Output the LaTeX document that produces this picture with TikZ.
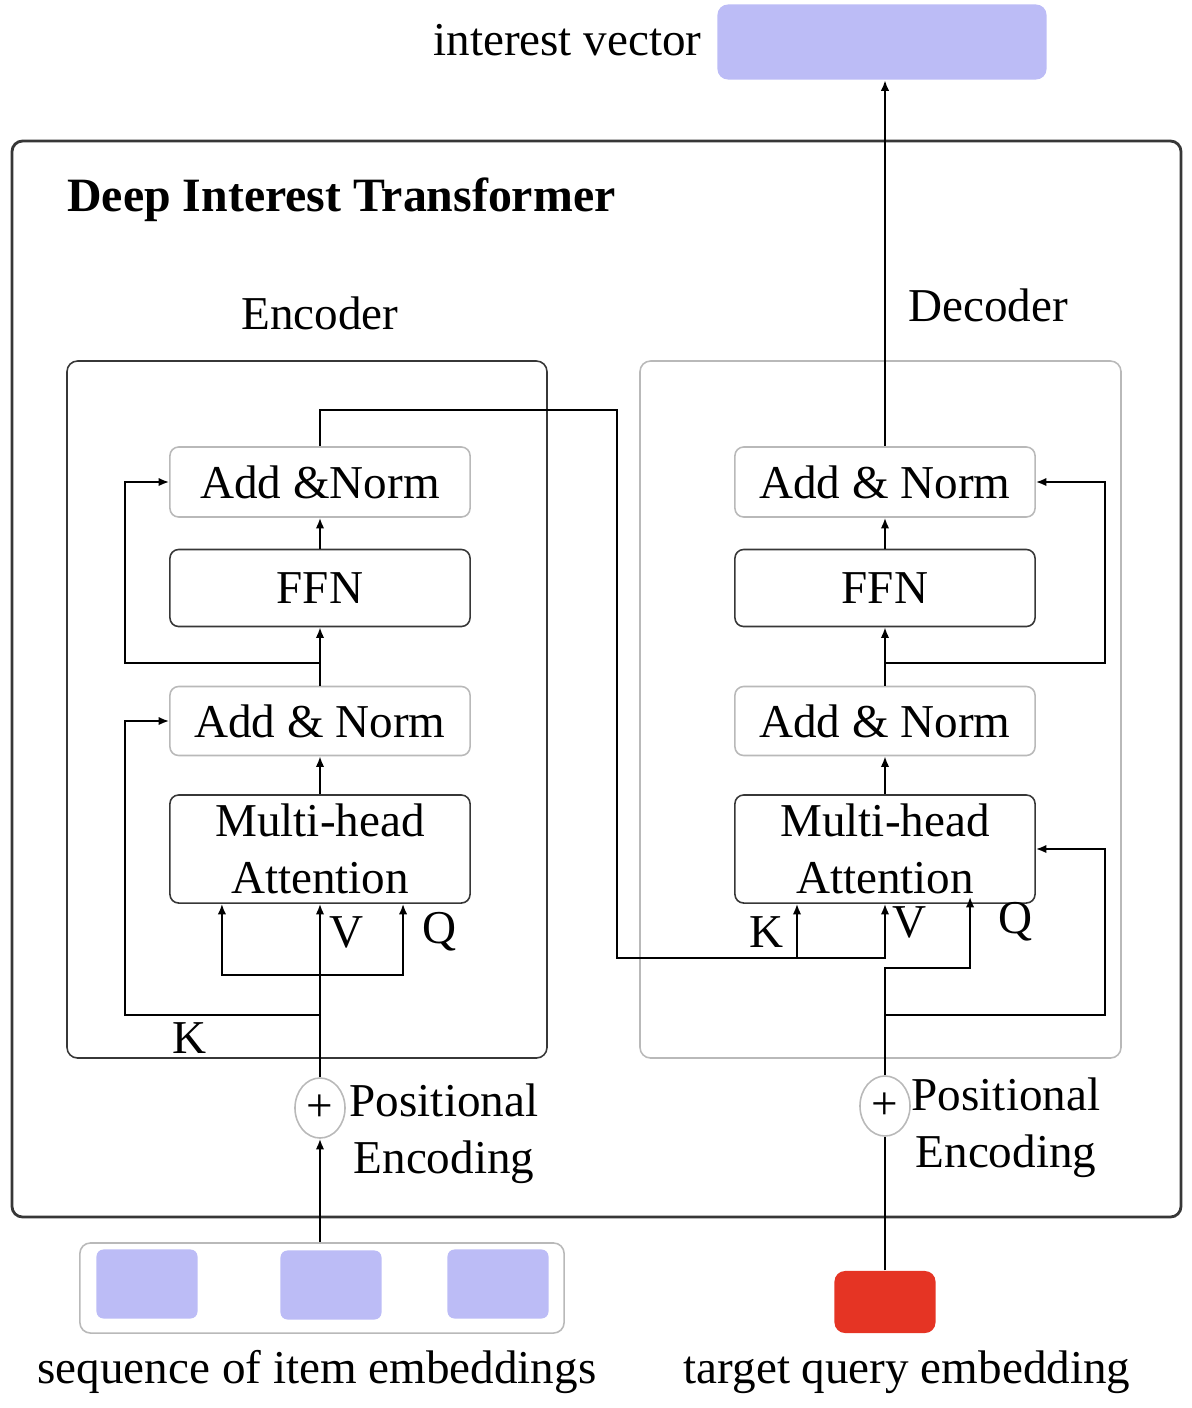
\documentclass[tikz,border=0pt]{standalone}
\usepackage{fontspec}
\setmainfont{Liberation Serif}
\usetikzlibrary{arrows.meta,shapes.geometric}
\definecolor{lavender}{RGB}{188,188,246}
\definecolor{qred}{RGB}{229,52,36}
\definecolor{lightline}{RGB}{185,185,185}
\definecolor{darkline}{RGB}{55,55,55}

\begin{document}
\begin{tikzpicture}[x=0.01cm,y=-0.01cm,
    font=\fontsize{13.4}{16.2}\selectfont,
    arr/.style={->,>={Latex[length=3pt,width=2.4pt]},line width=0.55pt},
    block/.style={draw=darkline,line width=0.45pt,rounded corners=2.5pt,
        minimum width=3cm,inner sep=1pt,align=center},
    normbox/.style={block,draw=lightline},
    emb/.style={fill=lavender,rounded corners=2pt,minimum width=1.01cm,minimum height=0.69cm}]
        \useasboundingbox (0,0) rectangle (1192,1408);

        % frames
        \draw[darkline,line width=0.8pt,rounded corners=3pt] (12,141) rectangle (1181,1217);
        \draw[darkline,line width=0.45pt,rounded corners=3pt] (67,361) rectangle (547,1058);
        \draw[lightline,line width=0.45pt,rounded corners=3pt] (640,361) rectangle (1121,1058);
        \node[anchor=west,font=\fontsize{13.6}{16.2}\selectfont\bfseries] (title) at (55,200) {Deep Interest Transformer};
        \node (enclbl) at (320,313) {Encoder};
        \node (declbl) at (988,305) {Decoder};

        % encoder
        \node[normbox,minimum height=0.70cm] (enc_an2) at (320,482) {Add \&Norm};
        \node[block,minimum height=0.77cm] (enc_ffn) at (320,588) {FFN};
        \node[normbox,minimum height=0.69cm] (enc_an1) at (320,721) {Add \& Norm};
        \node[block,minimum height=1.08cm] (enc_mha) at (320,849) {Multi-head\\Attention};

        % decoder
        \node[normbox,minimum height=0.70cm] (dec_an2) at (885,482) {Add \& Norm};
        \node[block,minimum height=0.77cm] (dec_ffn) at (885,588) {FFN};
        \node[normbox,minimum height=0.69cm] (dec_an1) at (885,721) {Add \& Norm};
        \node[block,minimum height=1.08cm] (dec_mha) at (885,849) {Multi-head\\Attention};

        % inputs and output
        \node[fill=lavender,rounded corners=3pt,minimum width=3.29cm,minimum height=0.75cm] (ivec) at (882,42) {};
        \node[anchor=east] (ivlbl) at (714,40) {interest vector};
        \node[draw=lightline,line width=0.45pt,rounded corners=3pt,minimum width=4.84cm,minimum height=0.90cm] (seq) at (322,1288) {};
        \node[emb] (emb1) at (147,1284) {};
        \node[emb] (emb2) at (331,1285) {};
        \node[emb] (emb3) at (498,1284) {};
        \node[fill=qred,rounded corners=3pt,minimum width=1.01cm,minimum height=0.62cm] (query) at (885,1302) {};
        \node (seqlbl) at (317,1372) {sequence of item embeddings};
        \node (querylbl) at (907,1372) {target query embedding};

        % positional encoding
        \node[ellipse,draw=lightline,line width=0.45pt,inner sep=0pt,minimum width=0.5cm,minimum height=0.6cm] (enc_pe) at (320,1108) {+};
        \node[align=center] (enc_pelbl) at (444,1134) {Positional\\Encoding};
        \node[ellipse,draw=lightline,line width=0.45pt,inner sep=0pt,minimum width=0.5cm,minimum height=0.6cm] (dec_pe) at (885,1106) {+};
        \node[align=center] (dec_pelbl) at (1006,1128) {Positional\\Encoding};

        % encoder connectors
        \draw[arr] (enc_pe.south |- seq.north) -- (enc_pe.south);
        \draw[arr] (enc_pe.north) -- (enc_mha.south);
        \coordinate (ekv) at (320,975);
        \draw[arr] (ekv) -| ([xshift=-0.98cm]enc_mha.south);
        \draw[arr] (ekv) -| ([xshift=0.83cm]enc_mha.south);
        \coordinate (ek) at (320,1015);
        \draw[arr] (ek) -- ++(-195,0) |- (enc_an1.west);
        \draw[arr] (enc_mha.north) -- (enc_an1.south);
        \draw[arr] (enc_an1.north) -- (enc_ffn.south);
        \draw[arr] (enc_ffn.north) -- (enc_an2.south);
        \coordinate (eres) at (320,663);
        \draw[arr] (eres) -- ++(-195,0) |- (enc_an2.west);
        \node (ek_lbl) at (190,1038) {K};
        \node (ev_lbl) at (347,932) {V};
        \node (eq_lbl) at (440,932) {Q};

        % encoder to decoder
        \draw[arr] (enc_an2.north) -- ++(0,-36) -| (617,958) -| (dec_mha.south);
        \coordinate (dk) at (797,958);
        \draw[arr] (dk) -- (dk |- dec_mha.south);

        % decoder connectors
        \draw[line width=0.55pt] (query.north) -- (dec_pe.south);
        \draw[arr] (dec_pe.north) -- (885,968) -| ([xshift=0.85cm,yshift=0.07cm]dec_mha.south);
        \coordinate (dres1) at (885,1015);
        \draw[arr] (dres1) -- ++(220,0) |- (dec_mha.east);
        \draw[arr] (dec_mha.north) -- (dec_an1.south);
        \draw[arr] (dec_an1.north) -- (dec_ffn.south);
        \draw[arr] (dec_ffn.north) -- (dec_an2.south);
        \coordinate (dres2) at (885,663);
        \draw[arr] (dres2) -- ++(220,0) |- (dec_an2.east);
        \draw[arr] (dec_an2.north) -- (dec_an2.north |- ivec.south);
        \node (dk_lbl) at (767,932) {K};
        \node (dv_lbl) at (910,922) {V};
        \node (dq_lbl) at (1016,922) {Q};

\end{tikzpicture}
\end{document}
